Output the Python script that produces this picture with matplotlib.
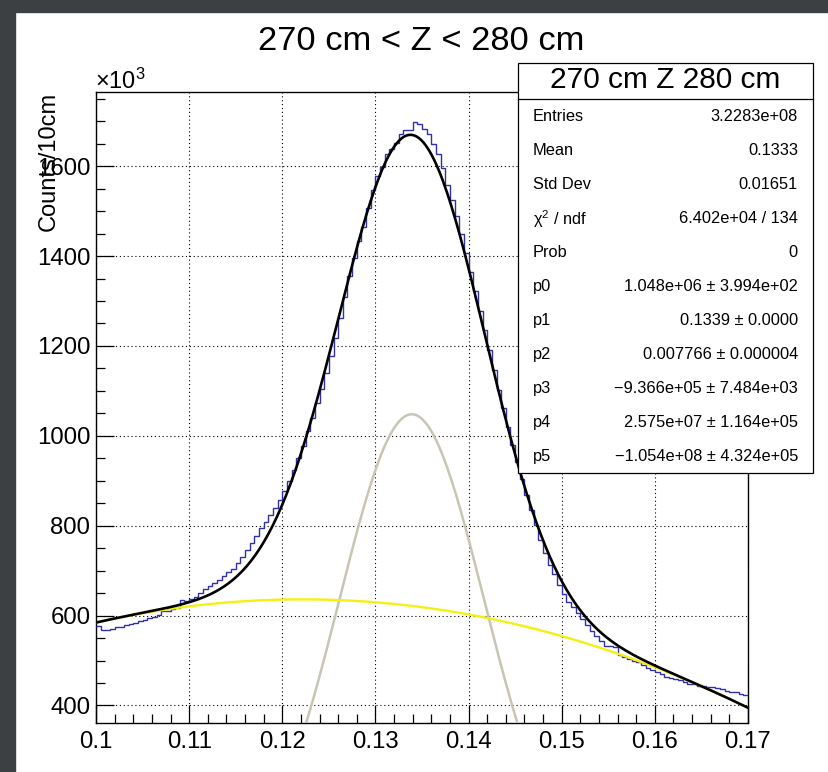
import numpy as np
import matplotlib.pyplot as plt
from matplotlib.patches import Rectangle
from matplotlib.lines import Line2D
from matplotlib.ticker import MultipleLocator

plt.rcParams['font.family'] = ['Liberation Sans', 'DejaVu Sans']
plt.rcParams['mathtext.fontset'] = 'custom'
plt.rcParams['mathtext.rm'] = 'Liberation Sans'
plt.rcParams['mathtext.it'] = 'Liberation Sans:italic'

# histogram: 140 bins between 0.1 and 0.17, counts in units of 10^3
x_min, x_max, n_bins = 0.1, 0.17, 140
counts = [
    576, 567, 568, 570, 574, 575, 579, 582, 584, 588,
    590, 594, 597, 601, 610, 611, 614, 617, 634, 633,
    637, 642, 651, 660, 665, 673, 679, 687, 697, 704,
    716, 731, 745, 761, 777, 795, 808, 824, 840, 857,
    878, 900, 925, 950, 978, 1010, 1040, 1072, 1105, 1139,
    1177, 1217, 1262, 1308, 1355, 1396, 1434, 1465, 1507, 1547,
    1578, 1599, 1626, 1639, 1652, 1671, 1680, 1680, 1699, 1693,
    1683, 1671, 1650, 1627, 1597, 1559, 1525, 1489, 1448, 1407,
    1364, 1322, 1277, 1235, 1190, 1147, 1103, 1061, 1020, 980,
    942, 905, 869, 834, 801, 769, 739, 712, 692, 667,
    647, 631, 618, 605, 592, 580, 566, 554, 543, 533,
    533, 529, 512, 507, 503, 499, 496, 489, 483, 478,
    475, 470, 464, 462, 459, 456, 452, 447, 447, 444,
    444, 442, 440, 439, 436, 433, 430, 429, 426, 424,
]

# fit result from the stats box: gaus(p0, p1, p2) + pol2(p3, p4, p5)
fit_pars = [1.048e+06, 0.1339, 0.007766, -9.366e+05, 2.575e+07, -1.054e+08]

stat_title = '270 cm Z 280 cm'
stat_labels = ['Entries', 'Mean', 'Std Dev', 'χ$^{2}$ / ndf', 'Prob',
               'p0', 'p1', 'p2', 'p3', 'p4', 'p5']
stat_values = ['3.2283e+08', '0.1333', '0.01651', '6.402e+04 / 134', '0',
               '1.048e+06 ± 3.994e+02', '0.1339 ± 0.0000',
               '0.007766 ± 0.000004', '\u22129.366e+05 ± 7.484e+03',
               '2.575e+07 ± 1.164e+05', '\u22121.054e+08 ± 4.324e+05']

y_ticks = [400, 600, 800, 1000, 1200, 1400, 1600]
x_ticks = [0.1, 0.11, 0.12, 0.13, 0.14, 0.15, 0.16, 0.17]
x_ticklabels = ['0.1', '0.11', '0.12', '0.13', '0.14', '0.15', '0.16', '0.17']

W, H = 829, 772


def fx(px):
    return px / W


def fy(py):
    return 1 - py / H


def gaus(x, p):
    return p[0] * np.exp(-0.5 * ((x - p[1]) / p[2]) ** 2)


def pol2(x, p):
    return p[3] + p[4] * x + p[5] * x ** 2


fig = plt.figure(figsize=(W / 100, H / 100), dpi=100)

# viewer border (top and left)
fig.patches.append(Rectangle((0, fy(12)), 1, 12 / H, transform=fig.transFigure,
                             color='#3c4043', zorder=0))
fig.patches.append(Rectangle((0, 0), fx(15), 1, transform=fig.transFigure,
                             color='#3c4043', zorder=0))

ax = fig.add_axes([fx(96), fy(723), fx(748 - 96), (723 - 92) / H])

edges = np.linspace(x_min, x_max, n_bins + 1)
ax.stairs(counts, edges, color='#3030a8', lw=1.0, baseline=None, zorder=3)

xs = np.linspace(x_min, x_max, 300)
ax.plot(xs, gaus(xs, fit_pars) / 1e3, color='#c9c5b4', lw=1.8, zorder=4)
ax.plot(xs, pol2(xs, fit_pars) / 1e3, color='#f4f012', lw=1.7, zorder=4)
ax.plot(xs, (gaus(xs, fit_pars) + pol2(xs, fit_pars)) / 1e3, color='black',
        lw=1.9, zorder=5)

ax.set_xlim(x_min, x_max)
ax.set_ylim(361, 1765)
ax.set_xticks(x_ticks)
ax.set_xticklabels(x_ticklabels)
ax.set_yticks(y_ticks)
ax.xaxis.set_minor_locator(MultipleLocator(0.002))
ax.yaxis.set_minor_locator(MultipleLocator(50))
ax.tick_params(which='both', direction='in', top=False, right=False,
               width=0.9, labelsize=17.3)
ax.tick_params(which='major', length=13)
ax.tick_params(which='minor', length=6.5)
ax.tick_params(axis='x', pad=6)
ax.tick_params(axis='y', pad=4)
ax.grid(True, which='major', color='black', linestyle=(0, (1, 2.5)), lw=0.8)
for s in ax.spines.values():
    s.set_linewidth(1.0)

fig.text(fx(421), fy(41), '270 cm < Z < 280 cm', ha='center', va='center',
         fontsize=24.8)
fig.text(fx(95), fy(89), r'$\times10^{3}$', ha='left', va='baseline',
         fontsize=17)
fig.text(fx(49), fy(92), 'Counts/10cm', rotation=90, ha='center', va='top',
         fontsize=17)

# stats box
bx0, bx1, by0, by1 = 518, 813, 63, 473
fig.patches.append(Rectangle((fx(bx0), fy(by1)), fx(bx1 - bx0), (by1 - by0) / H,
                             transform=fig.transFigure, facecolor='white',
                             edgecolor='black', lw=0.9, zorder=10))
fig.lines.append(Line2D([fx(bx0), fx(bx1)], [fy(98.5), fy(98.5)],
                        transform=fig.transFigure, color='black', lw=0.9,
                        zorder=11))
fig.text(fx((bx0 + bx1) / 2), fy(80.5), stat_title, ha='center', va='center',
         fontsize=21.5, zorder=12)
for k, (lab, val) in enumerate(zip(stat_labels, stat_values)):
    yy = fy(116.7 + 34.0 * k)
    fig.text(fx(533), yy, lab, ha='left', va='center', fontsize=11.8, zorder=12)
    fig.text(fx(798), yy, val, ha='right', va='center', fontsize=11.8, zorder=12)

fig.savefig('out.png', dpi=100)
